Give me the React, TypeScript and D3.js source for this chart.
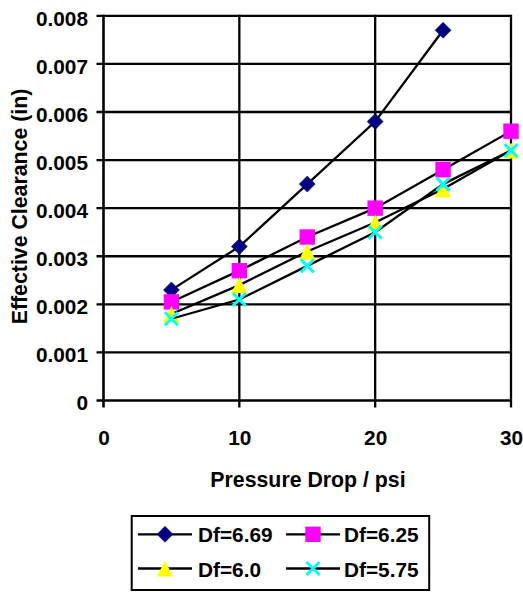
import React from "react";
import * as d3 from "d3";

const pressure = [5, 10, 15, 20, 25, 30];
const df669 = [0.0023, 0.0032, 0.0045, 0.0058, 0.0077];
const df625 = [0.00205, 0.0027, 0.0034, 0.004, 0.0048, 0.0056];
const df600 = [0.0018, 0.0024, 0.0031, 0.0037, 0.0044, 0.0052];
const df575 = [0.0017, 0.0021, 0.0028, 0.0035, 0.0045, 0.0052];
const seriesNames = ["Df=6.69", "Df=6.25", "Df=6.0", "Df=5.75"];
const xTicks = [0, 10, 20, 30];
const yTicks = [0, 0.001, 0.002, 0.003, 0.004, 0.005, 0.006, 0.007, 0.008];

const W = 523;
const H = 592;
const FONT = "'Liberation Sans', Arial, sans-serif";
const FS = 20.8;
const FST = 21.3;

type Kind = "diamond" | "square" | "triangle" | "x";

function Marker({ kind, cx, cy }: { kind: Kind; cx: number; cy: number }) {
  if (kind === "diamond") {
    const r = 8;
    return (
      <path
        d={`M${cx},${cy - r}L${cx + r},${cy}L${cx},${cy + r}L${cx - r},${cy}Z`}
        fill="#000080"
        stroke="#000080"
        strokeWidth={0.5}
      />
    );
  }
  if (kind === "square") {
    const r = 7.7;
    return <rect x={cx - r} y={cy - r} width={2 * r} height={2 * r} fill="#FF00FF" />;
  }
  if (kind === "triangle") {
    const r = 8;
    return (
      <path
        d={`M${cx},${cy - r}L${cx + r},${cy + r}L${cx - r},${cy + r}Z`}
        fill="#FFFF00"
      />
    );
  }
  const r = 6.5;
  return (
    <path
      d={`M${cx - r},${cy - r}L${cx + r},${cy + r}M${cx + r},${cy - r}L${cx - r},${cy + r}`}
      stroke="#00FFFF"
      strokeWidth={3}
      fill="none"
    />
  );
}

export default function App() {
  const x = d3.scaleLinear().domain([0, 30]).range([103.5, 511]);
  const y = d3.scaleLinear().domain([0, 0.008]).range([400.5, 15.8]);

  const series: { name: string; values: number[]; kind: Kind }[] = [
    { name: seriesNames[0], values: df669, kind: "diamond" },
    { name: seriesNames[1], values: df625, kind: "square" },
    { name: seriesNames[2], values: df600, kind: "triangle" },
    { name: seriesNames[3], values: df575, kind: "x" },
  ];

  const line = d3
    .line<number>()
    .x((_, i) => x(pressure[i]))
    .y((d) => y(d));

  const legendItems = [
    { s: series[0], lx: 138, ly: 534.3, ty: 541.7, tx: 198 },
    { s: series[1], lx: 286, ly: 534.3, ty: 541.7, tx: 344 },
    { s: series[2], lx: 138, ly: 568.5, ty: 577.3, tx: 198 },
    { s: series[3], lx: 286, ly: 568.5, ty: 577.3, tx: 344 },
  ];

  return (
    <svg
      width={W}
      height={H}
      style={{ position: "absolute", left: 0, top: 0, background: "#fff" }}
      fontFamily={FONT}
      fontWeight="bold"
    >
      {yTicks.map((t) => (
        <line key={"hy" + t} x1={96.5} x2={x(30)} y1={y(t)} y2={y(t)} stroke="#000" strokeWidth={2.3} />
      ))}
      {xTicks.map((t) => (
        <line
          key={"vx" + t}
          x1={x(t)}
          x2={x(t)}
          y1={y(0.008) - 1}
          y2={407.5}
          stroke="#000"
          strokeWidth={t === 0 ? 2.6 : 2.3}
        />
      ))}
      {yTicks.map((t) => (
        <text key={"ly" + t} x={88} y={y(t) + 9.8} textAnchor="end" fontSize={FS} fill="#000">
          {t === 0 ? "0" : d3.format(".3f")(t)}
        </text>
      ))}
      {xTicks.map((t) => (
        <text key={"lx" + t} x={x(t) + 0.5} y={445} textAnchor="middle" fontSize={FS} fill="#000">
          {t}
        </text>
      ))}
      <text x={308} y={487} textAnchor="middle" fontSize={FST} fill="#000">
        Pressure Drop / psi
      </text>
      <text
        transform={`translate(26.7,206.5) rotate(-90)`}
        textAnchor="middle"
        fontSize={FST}
        fill="#000"
      >
        Effective Clearance (in)
      </text>

      {series.map((s) => (
        <g key={s.name}>
          <path d={line(s.values) || ""} fill="none" stroke="#000" strokeWidth={2.3} />
          {s.values.map((v, i) => (
            <Marker key={i} kind={s.kind} cx={x(pressure[i])} cy={y(v)} />
          ))}
        </g>
      ))}

      <rect x={131.7} y={516} width={297.5} height={74} fill="#fff" stroke="#000" strokeWidth={2} />
      {legendItems.map((it) => (
        <g key={it.s.name}>
          <line x1={it.lx} x2={it.lx + 54} y1={it.ly} y2={it.ly} stroke="#000" strokeWidth={2.3} />
          <Marker kind={it.s.kind} cx={it.lx + 27} cy={it.ly} />
          <text x={it.tx} y={it.ty} fontSize={FS} fill="#000">
            {it.s.name}
          </text>
        </g>
      ))}
    </svg>
  );
}
